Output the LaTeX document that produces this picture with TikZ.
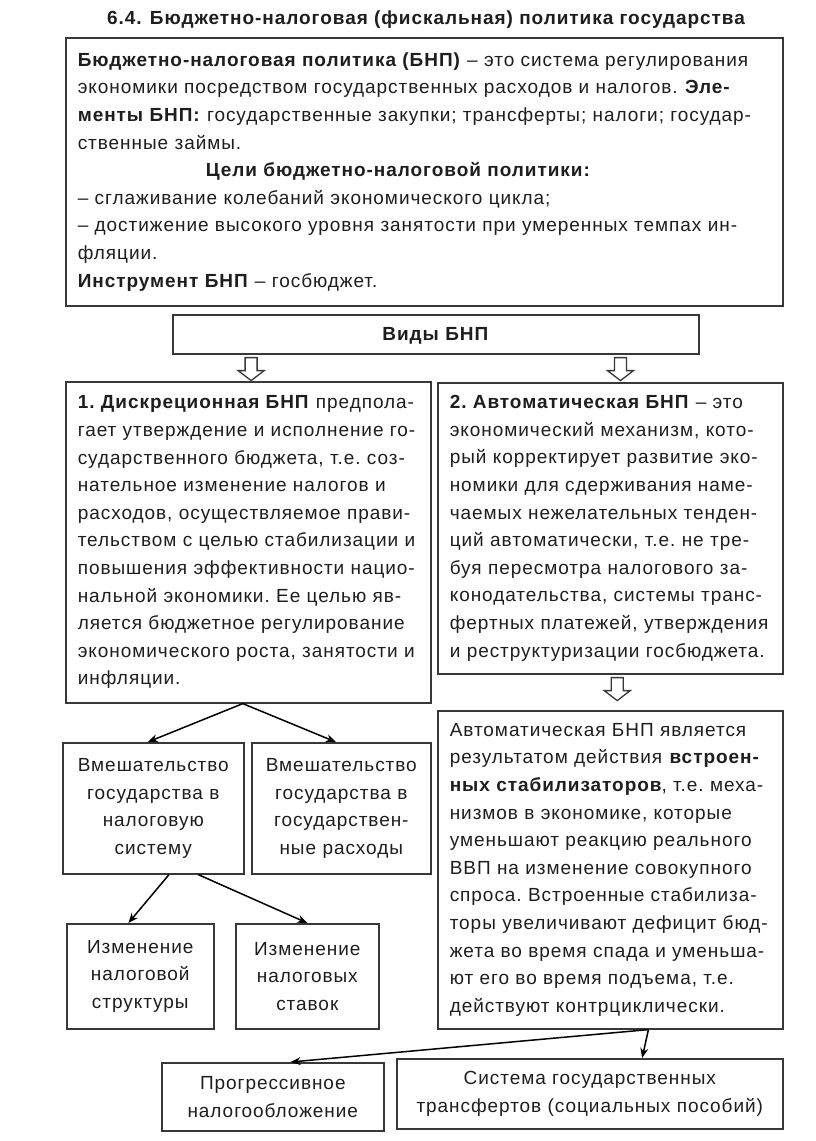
\documentclass[tikz,border=0pt]{standalone}
\usepackage{fontspec}
\setmainfont{Liberation Sans}[LetterSpace=5]
\usetikzlibrary{arrows.meta,calc}
\definecolor{bordc}{HTML}{383838}
\definecolor{txtc}{HTML}{1E1E1E}
\newcommand\bodyf{\fontsize{19}{27.6}\selectfont\frenchspacing}
\begin{document}
\begin{tikzpicture}[x=1pt,y=-1pt,
  box/.style={draw=bordc, line width=1.6pt, inner xsep=12pt, inner ysep=0pt, anchor=north west, font=\bodyf, text=txtc},
  cbox/.style={box, align=center},
  lbox/.style={box, align=left},
  arr/.style={-{Stealth[length=10pt,width=8pt]}, line width=1.5pt, draw=black},
  hollow/.style={draw=bordc, line width=1.3pt, fill=white, line join=miter}]
\useasboundingbox (0,0) rectangle (816,1141);
\fill[white] (0,0) rectangle (816,1141);

\node[font=\bfseries\fontsize{19}{22}\selectfont, text=txtc] (title) at (426,20) {6.4. Бюджетно-налоговая (фискальная) политика государства};

\node[lbox, minimum width=717pt, minimum height=268pt, text width=693pt] (top) at (65,37) {%
\textbf{Бюджетно-налоговая политика (БНП)} – это система регулирования\\
экономики посредством государственных расходов и налогов. \textbf{Эле-}\\
\textbf{менты БНП:} государственные закупки; трансферты; налоги; государ-\\
ственные займы.\\
\hspace*{128pt}\textbf{Цели бюджетно-налоговой политики:}\\
– сглаживание колебаний экономического цикла;\\
– достижение высокого уровня занятости при умеренных темпах ин-\\
фляции.\\
\textbf{Инструмент БНП} – госбюджет.};

\node[cbox, minimum width=526pt, minimum height=39pt, text width=502pt, text depth=1pt] (vid) at (172,314) {\textbf{Виды БНП}};

\node[lbox, minimum width=365pt, minimum height=321pt, text width=341pt] (disc) at (65,381) {%
\textbf{1. Дискреционная БНП} предпола-\\
гает утверждение и исполнение го-\\
сударственного бюджета, т.е. соз-\\
нательное изменение налогов и\\
расходов, осуществляемое прави-\\
тельством с целью стабилизации и\\
повышения эффективности нацио-\\
нальной экономики. Ее целью яв-\\
ляется бюджетное регулирование\\
экономического роста, занятости и\\
инфляции.};

\node[lbox, minimum width=345pt, minimum height=291pt, text width=321pt] (auto) at (437,382) {%
\textbf{2. Автоматическая БНП} – это\\
экономический механизм, кото-\\
рый корректирует развитие эко-\\
номики для сдерживания наме-\\
чаемых нежелательных тенден-\\
ций автоматически, т.е. не тре-\\
буя пересмотра налогового за-\\
конодательства, системы транс-\\
фертных платежей, утверждения\\
и реструктуризации госбюджета.};

\node[lbox, minimum width=345pt, minimum height=318pt, text width=321pt] (auto2) at (437,710) {%
Автоматическая БНП является\\
результатом действия \textbf{встроен-}\\
\textbf{ных стабилизаторов}, т.е. меха-\\
низмов в экономике, которые\\
уменьшают реакцию реального\\
ВВП на изменение совокупного\\
спроса. Встроенные стабилиза-\\
торы увеличивают дефицит бюд-\\
жета во время спада и уменьша-\\
ют его во время подъема, т.е.\\
действуют контрциклически.};

\node[cbox, minimum width=181pt, minimum height=131pt, text width=175pt, inner xsep=3pt] (vm1) at (62,742) {%
Вмешательство\\государства в\\налоговую\\систему};
\node[cbox, minimum width=179pt, minimum height=131pt, text width=173pt, inner xsep=3pt] (vm2) at (251,742) {%
Вмешательство\\государства в\\государствен-\\ные расходы};

\node[cbox, minimum width=147pt, minimum height=105pt, text width=141pt, inner xsep=3pt] (iz1) at (66,923) {%
Изменение\\налоговой\\структуры};
\node[cbox, minimum width=143pt, minimum height=105pt, text width=137pt, inner xsep=3pt] (iz2) at (235,923) {%
Изменение\\налоговых\\ставок};

\node[cbox, minimum width=222pt, minimum height=68pt, text width=216pt, inner xsep=3pt] (prog) at (161,1062) {%
Прогрессивное\\налогообложение};
\node[cbox, minimum width=386pt, minimum height=70pt, text width=380pt, inner xsep=3pt] (sys) at (396,1058) {%
Система государственных\\трансфертов (социальных пособий)};

% hollow arrows
\coordinate (h1) at ($(vid.south west)!0.15!(vid.south east)+(0,3)$);
\coordinate (h2) at ($(vid.south west)!0.85!(vid.south east)+(0,3)$);
\coordinate (h3) at ($(auto.south west)!0.52!(auto.south east)+(0,3)$);
\foreach \h in {h1,h2,h3}{
  \draw[hollow] (\h) ++(-6,0) -- ++(0,13) -- ++(-7,0) -- ++(13,10) -- ++(13,-10) -- ++(-7,0) -- ++(0,-13) -- cycle;
}

% connectors
\draw[arr] ($(disc.south west)!0.485!(disc.south east)$) -- ($(vm1.north west)!0.47!(vm1.north east)$);
\draw[arr] ($(disc.south west)!0.485!(disc.south east)$) -- ($(vm2.north west)!0.47!(vm2.north east)$);
\draw[arr] ($(vm1.south west)!0.586!(vm1.south east)$) -- ($(iz1.north west)!0.42!(iz1.north east)$);
\draw[arr] ($(vm1.south west)!0.746!(vm1.south east)$) -- (iz2.north);
\draw[arr] ($(auto2.south west)!0.61!(auto2.south east)$) -- ($(prog.north west)!0.58!(prog.north east)$);
\draw[arr] ($(auto2.south west)!0.61!(auto2.south east)$) -- ($(sys.north west)!0.635!(sys.north east)$);
\end{tikzpicture}
\end{document}
